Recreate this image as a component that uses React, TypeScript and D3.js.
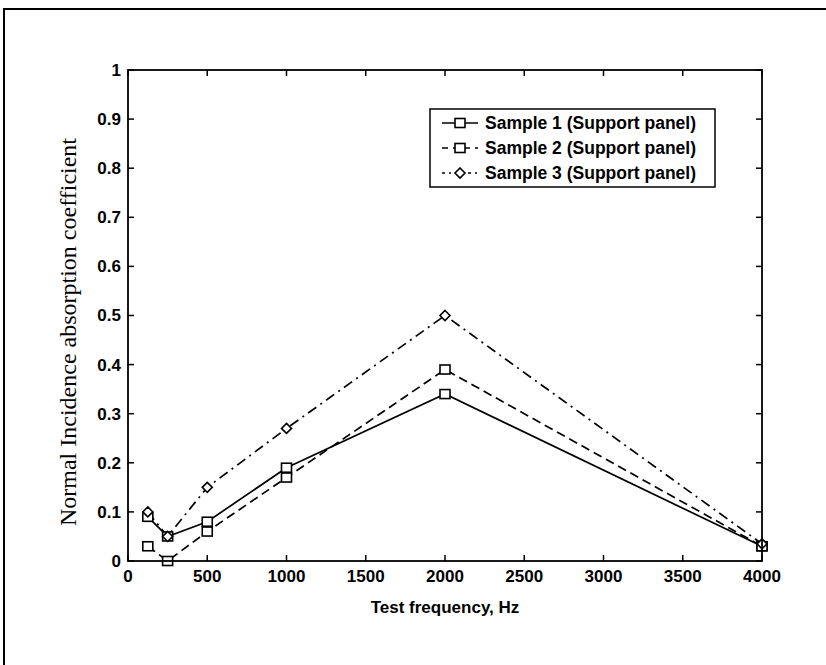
import React from "react";
import * as d3 from "d3";

const frequencies = [125, 250, 500, 1000, 2000, 4000];
const sample1 = [0.09, 0.05, 0.08, 0.19, 0.34, 0.03];
const sample2 = [0.03, 0.0, 0.06, 0.17, 0.39, 0.03];
const sample3 = [0.1, 0.05, 0.15, 0.27, 0.5, 0.035];
const seriesNames = [
  "Sample 1 (Support panel)",
  "Sample 2 (Support panel)",
  "Sample 3 (Support panel)",
];
const xTicks = [0, 500, 1000, 1500, 2000, 2500, 3000, 3500, 4000];
const yTicks = [0, 0.1, 0.2, 0.3, 0.4, 0.5, 0.6, 0.7, 0.8, 0.9, 1];
const xLabel = "Test frequency, Hz";
const yLabel = "Normal Incidence absorption coefficient";

const W = 826;
const H = 665;
const M = { left: 128, right: 762, top: 70, bottom: 561 };

const x = d3.scaleLinear().domain([0, 4000]).range([M.left, M.right]);
const y = d3.scaleLinear().domain([0, 1]).range([M.bottom, M.top]);

const styles = [
  { dash: "none", legendDash: "none", marker: "square" },
  { dash: "9,5", legendDash: "6,5", marker: "square" },
  { dash: "10,5,2,5", legendDash: "3,4,2,4", marker: "diamond" },
];

const allSeries = [sample1, sample2, sample3];

function Marker({ type, cx, cy }: { type: string; cx: number; cy: number }) {
  if (type === "diamond") {
    const s = 5;
    return (
      <path
        d={`M${cx},${cy - s}L${cx + s},${cy}L${cx},${cy + s}L${cx - s},${cy}Z`}
        fill="white"
        stroke="black"
        strokeWidth={1.6}
      />
    );
  }
  return (
    <rect
      x={cx - 5}
      y={cy - 4.5}
      width={10}
      height={9}
      fill="white"
      stroke="black"
      strokeWidth={1.6}
    />
  );
}

export default function App() {
  const line = d3
    .line<[number, number]>()
    .x((d) => x(d[0]))
    .y((d) => y(d[1]));
  const font = "'Liberation Sans', Arial, sans-serif";
  const tickLen = 6;
  const legend = { x0: 430, y0: 109, x1: 715, y1: 187 };
  return (
    <svg
      width={W}
      height={H}
      style={{ position: "absolute", left: 0, top: 0, background: "white" }}
    >
      <rect x={0} y={0} width={W} height={H} fill="white" />
      {/* outer frame */}
      <line x1={3} y1={9} x2={W} y2={9} stroke="black" strokeWidth={2} />
      <line x1={4} y1={9} x2={4} y2={H} stroke="black" strokeWidth={2} />

      {/* series lines */}
      {allSeries.map((vals, i) => (
        <path
          key={"l" + i}
          d={line(frequencies.map((f, j) => [f, vals[j]]) as [number, number][]) || ""}
          fill="none"
          stroke="black"
          strokeWidth={1.7}
          strokeDasharray={styles[i].dash}
        />
      ))}
      {allSeries.map((vals, i) =>
        frequencies.map((f, j) => (
          <Marker key={"m" + i + "-" + j} type={styles[i].marker} cx={x(f)} cy={y(vals[j])} />
        ))
      )}

      {/* axes box */}
      <rect
        x={M.left}
        y={M.top}
        width={M.right - M.left}
        height={M.bottom - M.top}
        fill="none"
        stroke="black"
        strokeWidth={1.8}
      />
      {xTicks.map((t) => (
        <g key={"xt" + t}>
          <line x1={x(t)} x2={x(t)} y1={M.bottom} y2={M.bottom - tickLen} stroke="black" strokeWidth={1.5} />
          <line x1={x(t)} x2={x(t)} y1={M.top} y2={M.top + tickLen} stroke="black" strokeWidth={1.5} />
          <text
            x={x(t)}
            y={M.bottom + 21}
            textAnchor="middle"
            fontFamily={font}
            fontWeight="bold"
            fontSize={17}
          >
            {t}
          </text>
        </g>
      ))}
      {yTicks.map((t) => (
        <g key={"yt" + t}>
          <line x1={M.left} x2={M.left + tickLen} y1={y(t)} y2={y(t)} stroke="black" strokeWidth={1.5} />
          <line x1={M.right} x2={M.right - tickLen} y1={y(t)} y2={y(t)} stroke="black" strokeWidth={1.5} />
          <text
            x={M.left - 7}
            y={y(t)}
            dy="0.35em"
            textAnchor="end"
            fontFamily={font}
            fontWeight="bold"
            fontSize={17}
          >
            {d3.format("~g")(t)}
          </text>
        </g>
      ))}

      {/* axis labels */}
      <text
        x={(M.left + M.right) / 2}
        y={613}
        textAnchor="middle"
        fontFamily={font}
        fontWeight="bold"
        fontSize={17}
      >
        {xLabel}
      </text>
      <text
        transform={`translate(76,332) rotate(-90)`}
        textAnchor="middle"
        fontFamily="'Liberation Serif', 'Times New Roman', serif"
        fontSize={24}
      >
        {yLabel}
      </text>

      {/* legend */}
      <rect
        x={legend.x0}
        y={legend.y0}
        width={legend.x1 - legend.x0}
        height={legend.y1 - legend.y0}
        fill="white"
        stroke="black"
        strokeWidth={1.5}
      />
      {seriesNames.map((name, i) => {
        const cy = legend.y0 + 14 + i * 25;
        return (
          <g key={"lg" + i}>
            <line
              x1={442}
              x2={478}
              y1={cy}
              y2={cy}
              stroke="black"
              strokeWidth={1.7}
              strokeDasharray={styles[i].legendDash}
            />
            <Marker type={styles[i].marker} cx={460} cy={cy} />
            <text
              x={485}
              y={cy}
              dy="0.35em"
              fontFamily={font}
              fontWeight="bold"
              fontSize={17.5}
            >
              {name}
            </text>
          </g>
        );
      })}
    </svg>
  );
}
